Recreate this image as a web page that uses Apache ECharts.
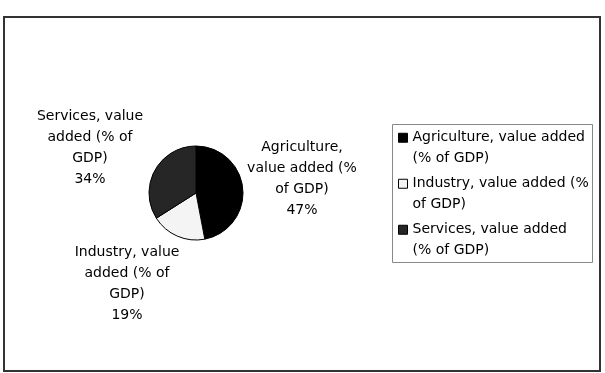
<!DOCTYPE html>
<html>
<head>
<meta charset="utf-8">
<script src="https://cdn.jsdelivr.net/npm/echarts@6/dist/echarts.min.js"></script>
<style>
html,body{margin:0;padding:0;background:#fff;}
#chart{width:605px;height:373px;}
</style>
</head>
<body>
<div id="chart"></div>
<script>
// ---- data ----
const categories = [
  'Agriculture, value added (% of GDP)',
  'Industry, value added (% of GDP)',
  'Services, value added (% of GDP)'
];
const shares = [47, 19, 34];
const pieLabelTexts = [
  'Agriculture,\nvalue added (%\nof GDP)',
  'Industry, value\nadded (% of\nGDP)',
  'Services, value\nadded (% of\nGDP)'
];
const legendLabelTexts = [
  'Agriculture, value added\n(% of GDP)',
  'Industry, value added (%\nof GDP)',
  'Services, value added\n(% of GDP)'
];

// ---- layout / style ----
const sliceColors = ['#000000', '#f4f4f4', '#262626'];
const FONT = 'DejaVu Sans';
const CX = 196, CY = 193, R = 47;
const labelOffsets = [[106, -14], [-69, 91], [-106, -45]];

const chart = echarts.init(document.getElementById('chart'), null, {renderer: 'canvas'});
const option = {
  backgroundColor: '#ffffff',
  animation: false,
  graphic: [
    {type: 'rect', shape: {x: 4, y: 17, width: 596, height: 354},
     style: {fill: 'none', stroke: '#333', lineWidth: 2}, silent: true},
    {type: 'rect', shape: {x: 392.5, y: 124.5, width: 200, height: 138},
     style: {fill: 'none', stroke: '#888', lineWidth: 1}, silent: true}
  ],
  legend: {
    orient: 'vertical',
    left: 398,
    top: 107,
    padding: 0,
    itemWidth: 9,
    itemHeight: 9,
    itemGap: -15.5,
    icon: 'rect',
    itemStyle: {borderColor: '#000', borderWidth: 1},
    formatter: function (name) { return '\n' + legendLabelTexts[categories.indexOf(name)]; },
    textStyle: {fontFamily: FONT, fontSize: 14, color: '#000', lineHeight: 20.5},
    data: categories
  },
  series: [{
    type: 'pie',
    center: [CX, CY],
    radius: [0, R],
    startAngle: 90,
    clockwise: true,
    silent: true,
    itemStyle: {borderColor: '#000', borderWidth: 1},
    label: {
      show: true,
      position: 'inside',
      fontFamily: FONT,
      fontSize: 14,
      lineHeight: 21,
      color: '#000',
      formatter: function (p) { return pieLabelTexts[p.dataIndex] + '\n' + Math.round(p.percent) + '%'; }
    },
    labelLine: {show: false},
    labelLayout: function (p) {
      const o = labelOffsets[p.dataIndex];
      return {x: CX + o[0], y: CY + o[1], align: 'center', verticalAlign: 'middle'};
    },
    data: categories.map(function (c, i) {
      return {name: c, value: shares[i], itemStyle: {color: sliceColors[i]}};
    })
  }]
};
chart.setOption(option);
</script>
</body>
</html>
